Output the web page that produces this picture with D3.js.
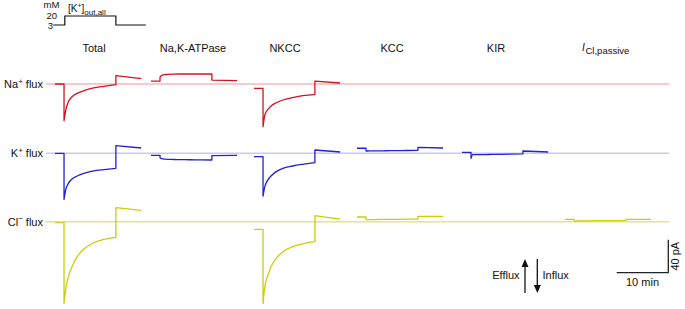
<!DOCTYPE html>
<html><head><meta charset="utf-8">
<script src="https://cdn.jsdelivr.net/npm/d3@7"></script>
<style>
body{margin:0;background:#fff}
svg{display:block}
text{font-family:"Liberation Sans",Arial,sans-serif;fill:#111}
</style>
</head><body>
<svg id="chart" width="685" height="309"></svg>
<script>
// ---------------- DATA ----------------
const columns = ["Total", "Na,K-ATPase", "NKCC", "KCC", "KIR", "ICl,passive"];
const ionLabels = ["Na", "K", "Cl"];
// time points (min) relative to start of each trace
const preTimes = [0, 1.75];
const stepTimes = [1.75, 2.1, 2.6, 3.3, 4.3, 5.6, 7.5, 9.5, 11.8];
const postTimes = [11.8, 16.7];
// [K+]out stimulus (mM)
const stimTimes = [-0.35, 1.9, 1.9, 11.8, 11.8, 17.6];
const stimK = [3, 3, 20, 20, 3, 3];

// Na+ flux (pA): level before, during 20 mM K+, after (start,end); null = not shown
const naPre = [0, 3.6, -5.2, null, null, null];
const naStep = [
  [-44.5, -31.5, -21.5, -15.4, -11.3, -8.1, -4.8, -2.8, -0.8],
  [8.5, 10.5, 11.3, 11.6, 11.9, 12.1, 12.1, 12.1, 12.1],
  [-51.8, -37.6, -31.5, -26.7, -22.7, -19.4, -16.6, -14.2, -12.5],
  null, null, null];
const naPost = [[10.1, 6.4], [4.8, 4.0], [3.6, 1.2], null, null, null];

// K+ flux (pA)
const kPre = [0, -2.4, -4.0, 6.1, 1.2, null];
const kStep = [
  [-55.8, -43.6, -36.4, -31.1, -27.5, -24.2, -21.4, -19.8, -18.2],
  [-5.5, -6.4, -7.0, -7.3, -7.5, -7.6, -7.8, -7.9, -8.1],
  [-51.8, -40.4, -33.1, -27.5, -22.2, -18.2, -15.4, -13.3, -11.3],
  [2.8, 2.8, 2.9, 3.0, 3.0, 3.1, 3.2, 3.4, 3.6],
  [-6.1, -1.6, -1.6, -1.5, -1.5, -1.4, -1.2, -1.0, -0.8],
  null];
const kPost = [[9.2, 6.4], [-2.8, -2.4], [4.0, 1.6], [7.3, 6.4], [2.8, 1.6], null];

// Cl- flux (pA)
const clPre = [-1.2, null, -9.3, 5.7, null, 2.8];
const clStep = [
  [-99, -80.8, -66.7, -54.5, -42.4, -33.1, -25.5, -21.4, -19.0],
  null,
  [-99, -78.8, -66.7, -54.5, -44.4, -36.4, -30.3, -26.7, -24.2],
  [2.4, 2.4, 2.5, 2.6, 2.7, 2.8, 2.9, 3.0, 3.2],
  null,
  [0.8, 0.8, 0.9, 1.0, 1.1, 1.2, 1.3, 1.4, 1.6]];
const clPost = [[17.0, 13.7], null, [7.3, 3.2], [6.5, 6.5], null, [2.8, 2.8]];

// ---------------- LAYOUT ----------------
const colStart = [55, 151, 254, 357, 462, 565];
const headerX = [94, 193, 285, 392, 496, 604];
const rowBase = [84, 153.3, 221.7];
const pxPerMin = 5.16;      // 10 min = 51.6 px
const pxPer40pA = 33;
const traceColor = ["#d4121e", "#2121d6", "#cccc10"];
const baseColor = ["#f8b9b9", "#c9c9f4", "#e6e67e"];

const svg = d3.select("#chart");

const rows = [
  {pre: naPre, step: naStep, post: naPost},
  {pre: kPre, step: kStep, post: kPost},
  {pre: clPre, step: clStep, post: clPost}
];

// baselines
rows.forEach((r, i) => {
  svg.append("line")
    .attr("x1", 46).attr("x2", 669)
    .attr("y1", rowBase[i]).attr("y2", rowBase[i])
    .attr("stroke", baseColor[i]).attr("stroke-width", 1.4);
});

// row labels
const supers = ["+", "+", "\u2212"];
rows.forEach((r, i) => {
  const t = svg.append("text").attr("x", 43).attr("y", rowBase[i] + 4)
    .attr("text-anchor", "end").style("font-size", "11px");
  t.append("tspan").text(ionLabels[i]);
  t.append("tspan").style("font-size", "8px").attr("dy", -4.5).text(supers[i]);
  t.append("tspan").attr("dy", 4.5).text(" flux");
});

// headers
columns.forEach((c, j) => {
  if (j === 5) {
    svg.append("text").attr("x", headerX[j] - 22).attr("y", 50.5)
      .style("font-size", "10px").style("font-style", "italic").text("I");
    svg.append("text").attr("x", headerX[j] - 18.5).attr("y", 54)
      .style("font-size", "9.5px").text("Cl,passive");
  } else {
    svg.append("text").attr("x", headerX[j]).attr("y", 52)
      .attr("text-anchor", "middle").style("font-size", "11px").text(c);
  }
});

// traces
const yScales = rowBase.map(b => d3.scaleLinear().domain([-40, 0]).range([b + pxPer40pA, b]));
rows.forEach((r, i) => {
  const y = yScales[i];
  columns.forEach((c, j) => {
    if (r.pre[j] === null) return;
    const x = d3.scaleLinear().domain([0, 10]).range([colStart[j], colStart[j] + pxPerMin * 10]);
    const lin = d3.line().x(d => x(d[0])).y(d => y(d[1]));
    const crv = d3.line().x(d => x(d[0])).y(d => y(d[1])).curve(d3.curveMonotoneX);
    const a = lin(preTimes.map(t => [t, r.pre[j]]));
    const b = crv(stepTimes.map((t, k) => [t, r.step[j][k]])).replace(/^M/, "L");
    const cc = lin(postTimes.map((t, k) => [t, r.post[j][k]])).replace(/^M/, "L");
    svg.append("path").attr("d", a + b + cc)
      .attr("fill", "none").attr("stroke", traceColor[i])
      .attr("stroke-width", 1.3).attr("stroke-linejoin", "round");
  });
});

// stimulus
const sx = d3.scaleLinear().domain([0, 10]).range([colStart[0], colStart[0] + pxPerMin * 10]);
const sy = d3.scaleLinear().domain([3, 20]).range([25, 16]);
svg.append("path")
  .attr("d", d3.line().x((d, k) => sx(stimTimes[k])).y(d => sy(d))(stimK))
  .attr("fill", "none").attr("stroke", "#111").attr("stroke-width", 1.2);
svg.append("text").attr("x", 43.5).attr("y", 8).style("font-size", "9.5px").text("mM");
svg.append("text").attr("x", 46.5).attr("y", 19).style("font-size", "9.5px").text(String(stimK[2]));
svg.append("text").attr("x", 47.8).attr("y", 29.2).style("font-size", "9.5px").text(String(stimK[0]));
const kt = svg.append("text").attr("x", 68).attr("y", 11.5).style("font-size", "10px");
kt.append("tspan").text("[K");
kt.append("tspan").style("font-size", "7px").attr("dy", -4).text("+");
kt.append("tspan").attr("dy", 4).text("]");
kt.append("tspan").style("font-size", "8px").attr("dy", 3).text("out,all");

// efflux / influx arrows
const ax1 = 525, ax2 = 537.3, aTop = 259, aBot = 293;
svg.append("line").attr("x1", ax1).attr("x2", ax1).attr("y1", aBot).attr("y2", aTop + 6)
  .attr("stroke", "#111").attr("stroke-width", 1.3);
svg.append("path").attr("d", `M${ax1},${aTop}L${ax1 - 3.5},${aTop + 8}L${ax1 + 3.5},${aTop + 8}Z`).attr("fill", "#111");
svg.append("line").attr("x1", ax2).attr("x2", ax2).attr("y1", aTop).attr("y2", aBot - 6)
  .attr("stroke", "#111").attr("stroke-width", 1.3);
svg.append("path").attr("d", `M${ax2},${aBot}L${ax2 - 3.5},${aBot - 8}L${ax2 + 3.5},${aBot - 8}Z`).attr("fill", "#111");
svg.append("text").attr("x", 519.5).attr("y", 279).attr("text-anchor", "end").style("font-size", "11px").text("Efflux");
svg.append("text").attr("x", 542.5).attr("y", 279).style("font-size", "11px").text("Influx");

// scale bars
const sbX = 668.3, sbY = 272.7;
const tScale = d3.scaleLinear().domain([0, 10]).range([0, pxPerMin * 10]);
const aScale = d3.scaleLinear().domain([0, 40]).range([0, pxPer40pA]);
svg.append("path")
  .attr("d", `M${sbX - tScale(10)},${sbY}H${sbX}V${sbY - aScale(40)}`)
  .attr("fill", "none").attr("stroke", "#222").attr("stroke-width", 1.3);
svg.append("text").attr("x", sbX - tScale(10) / 2).attr("y", 286).attr("text-anchor", "middle")
  .style("font-size", "11px").text("10 min");
svg.append("text").attr("transform", `translate(679,${sbY - aScale(40) / 2}) rotate(-90)`)
  .attr("text-anchor", "middle").style("font-size", "11px").text("40 pA");
</script>
</body></html>
